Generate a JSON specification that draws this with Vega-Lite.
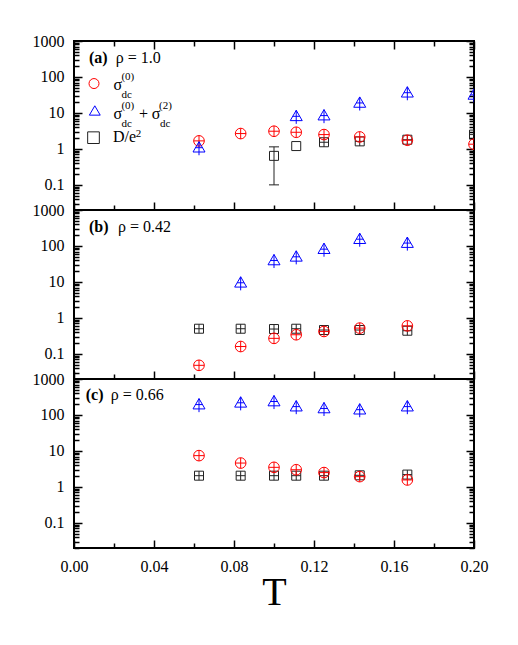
{
  "$schema": "https://vega.github.io/schema/vega-lite/v6.json",
  "autosize": {"type": "pad"},
  "padding": {"left": 31, "top": 32, "right": 5, "bottom": 5},
  "spacing": 0,
  "bounds": "flush",
  "datasets": {
    "points": [
      {"panel": "a", "series": "s0", "T": 0.0625, "v": 1.67},
      {"panel": "a", "series": "s0", "T": 0.08333, "v": 2.67},
      {"panel": "a", "series": "s0", "T": 0.1, "v": 3.1},
      {"panel": "a", "series": "s0", "T": 0.11111, "v": 2.9},
      {"panel": "a", "series": "s0", "T": 0.125, "v": 2.5},
      {"panel": "a", "series": "s0", "T": 0.14286, "v": 2.15},
      {"panel": "a", "series": "s0", "T": 0.16667, "v": 1.74},
      {"panel": "a", "series": "s0", "T": 0.2, "v": 1.35},
      {"panel": "a", "series": "s02", "T": 0.0625, "v": 1.14},
      {"panel": "a", "series": "s02", "T": 0.11111, "v": 8.5},
      {"panel": "a", "series": "s02", "T": 0.125, "v": 8.9},
      {"panel": "a", "series": "s02", "T": 0.14286, "v": 20},
      {"panel": "a", "series": "s02", "T": 0.16667, "v": 38.5},
      {"panel": "a", "series": "s02", "T": 0.2, "v": 33.5},
      {"panel": "a", "series": "D", "T": 0.1, "v": 0.64},
      {"panel": "a", "series": "D", "T": 0.11111, "v": 1.2},
      {"panel": "a", "series": "D", "T": 0.125, "v": 1.53},
      {"panel": "a", "series": "D", "T": 0.14286, "v": 1.62},
      {"panel": "a", "series": "D", "T": 0.16667, "v": 1.8},
      {"panel": "a", "series": "D", "T": 0.2, "v": 2.5},
      {"panel": "b", "series": "s0", "T": 0.0625, "v": 0.048},
      {"panel": "b", "series": "s0", "T": 0.08333, "v": 0.16},
      {"panel": "b", "series": "s0", "T": 0.1, "v": 0.27},
      {"panel": "b", "series": "s0", "T": 0.11111, "v": 0.34},
      {"panel": "b", "series": "s0", "T": 0.125, "v": 0.42},
      {"panel": "b", "series": "s0", "T": 0.14286, "v": 0.52},
      {"panel": "b", "series": "s0", "T": 0.16667, "v": 0.6},
      {"panel": "b", "series": "s02", "T": 0.08333, "v": 10},
      {"panel": "b", "series": "s02", "T": 0.1, "v": 41.7},
      {"panel": "b", "series": "s02", "T": 0.11111, "v": 52.7},
      {"panel": "b", "series": "s02", "T": 0.125, "v": 86},
      {"panel": "b", "series": "s02", "T": 0.14286, "v": 163},
      {"panel": "b", "series": "s02", "T": 0.16667, "v": 127},
      {"panel": "b", "series": "D", "T": 0.0625, "v": 0.5},
      {"panel": "b", "series": "D", "T": 0.08333, "v": 0.5},
      {"panel": "b", "series": "D", "T": 0.1, "v": 0.49},
      {"panel": "b", "series": "D", "T": 0.11111, "v": 0.5},
      {"panel": "b", "series": "D", "T": 0.125, "v": 0.46},
      {"panel": "b", "series": "D", "T": 0.14286, "v": 0.46},
      {"panel": "b", "series": "D", "T": 0.16667, "v": 0.44},
      {"panel": "c", "series": "s0", "T": 0.0625, "v": 7.4},
      {"panel": "c", "series": "s0", "T": 0.08333, "v": 4.6},
      {"panel": "c", "series": "s0", "T": 0.1, "v": 3.5},
      {"panel": "c", "series": "s0", "T": 0.11111, "v": 3.0},
      {"panel": "c", "series": "s0", "T": 0.125, "v": 2.5},
      {"panel": "c", "series": "s0", "T": 0.14286, "v": 1.93},
      {"panel": "c", "series": "s0", "T": 0.16667, "v": 1.56},
      {"panel": "c", "series": "s02", "T": 0.0625, "v": 205},
      {"panel": "c", "series": "s02", "T": 0.08333, "v": 230},
      {"panel": "c", "series": "s02", "T": 0.1, "v": 250},
      {"panel": "c", "series": "s02", "T": 0.11111, "v": 180},
      {"panel": "c", "series": "s02", "T": 0.125, "v": 160},
      {"panel": "c", "series": "s02", "T": 0.14286, "v": 148},
      {"panel": "c", "series": "s02", "T": 0.16667, "v": 180},
      {"panel": "c", "series": "D", "T": 0.0625, "v": 2.05},
      {"panel": "c", "series": "D", "T": 0.08333, "v": 2.05},
      {"panel": "c", "series": "D", "T": 0.1, "v": 2.05},
      {"panel": "c", "series": "D", "T": 0.11111, "v": 2.05},
      {"panel": "c", "series": "D", "T": 0.125, "v": 2.05},
      {"panel": "c", "series": "D", "T": 0.14286, "v": 2.1},
      {"panel": "c", "series": "D", "T": 0.16667, "v": 2.2}
    ],
    "errs": [{"panel": "a", "T": 0.1, "lo": 0.1, "hi": 1.14}],
    "tags": [
      {"panel": "a", "T": 0.0075, "v": 240, "text": "(a)"},
      {"panel": "b", "T": 0.0075, "v": 242, "text": "(b)"},
      {"panel": "c", "T": 0.00585, "v": 255, "text": "(c)"}
    ],
    "rho": [
      {"panel": "a", "T": 0.0209, "v": 240, "text": "ρ = 1.0"},
      {"panel": "b", "T": 0.022, "v": 242, "text": "ρ = 0.42"},
      {"panel": "c", "T": 0.01835, "v": 255, "text": "ρ = 0.66"}
    ],
    "keys": [
      {"series": "s0", "T": 0.01, "v": 65.6},
      {"series": "s02", "T": 0.0104, "v": 11.7},
      {"series": "D", "T": 0.00975, "v": 2.05}
    ],
    "keyText": [
      {"T": 0.0197, "v": 42.7, "text": "σ"},
      {"T": 0.0197, "v": 6.68, "text": "σ"},
      {"T": 0.0325, "v": 6.68, "text": "+"},
      {"T": 0.0389, "v": 6.68, "text": "σ"},
      {"T": 0.0195, "v": 1.565, "text": "D/e"}
    ],
    "keyScript": [
      {"T": 0.0237, "v": 81, "text": "(0)"},
      {"T": 0.0237, "v": 26.1, "text": "dc"},
      {"T": 0.0237, "v": 13.1, "text": "(0)"},
      {"T": 0.0237, "v": 4.08, "text": "dc"},
      {"T": 0.0425, "v": 13.1, "text": "(2)"},
      {"T": 0.043, "v": 4.08, "text": "dc"},
      {"T": 0.0309, "v": 2.15, "text": "2"}
    ]
  },
  "vconcat": [
    {
      "width": 400,
      "height": 169,
      "layer": [
        {
          "data": {"name": "points"},
          "transform": [{"filter": "datum.panel == 'a' && datum.series == 'D' && datum.T < 0.115"}],
          "mark": {"type": "point", "shape": "M-1,-1L1,-1L1,1L-1,1Z", "filled": false, "size": 81, "stroke": "#222222", "strokeWidth": 1, "opacity": 1, "clip": true},
          "encoding": {
            "x": {"field": "T", "type": "quantitative", "scale": {"domain": [0, 0.2], "nice": false, "zero": false},
              "axis": {"orient": "bottom", "title": null, "labels": false, "values": [0, 0.02, 0.04, 0.06, 0.08, 0.1, 0.12, 0.14, 0.16, 0.18, 0.2],
                "tickSize": {"condition": {"test": "indexof([0, 0.04, 0.08, 0.12, 0.16, 0.2], datum.value) >= 0", "value": -8}, "value": -5}}},
            "y": {"field": "v", "type": "quantitative", "scale": {"type": "log", "domain": [0.02, 1000], "nice": false},
              "axis": {"orient": "left", "title": null, "labelPadding": 18,
                "values": [0.02, 0.03, 0.04, 0.05, 0.06, 0.07, 0.08, 0.09, 0.1, 0.2, 0.3, 0.4, 0.5, 0.6, 0.7, 0.8, 0.9, 1, 2, 3, 4, 5, 6, 7, 8, 9, 10, 20, 30, 40, 50, 60, 70, 80, 90, 100, 200, 300, 400, 500, 600, 700, 800, 900, 1000],
                "labelExpr": "indexof([0.1, 1, 10, 100, 1000], datum.value) >= 0 ? format(datum.value, '~g') : ''",
                "tickSize": {"condition": {"test": "indexof([0.1, 1, 10, 100, 1000], datum.value) >= 0", "value": -8}, "value": -5}}}
          }
        },
        {
          "data": {"name": "errs"},
          "transform": [{"filter": "datum.panel == 'a'"}],
          "mark": {"type": "rule", "stroke": "#222222", "strokeWidth": 1},
          "encoding": {
            "x": {"field": "T", "type": "quantitative", "axis": null},
            "y": {"field": "lo", "type": "quantitative", "axis": null},
            "y2": {"field": "hi"}
          }
        },
        {
          "data": {"name": "errs"},
          "transform": [{"filter": "datum.panel == 'a'"}, {"fold": ["lo", "hi"], "as": ["end", "ev"]}],
          "mark": {"type": "point", "shape": "M-1,0L1,0", "filled": false, "size": 100, "stroke": "#222222", "strokeWidth": 1, "opacity": 1},
          "encoding": {
            "x": {"field": "T", "type": "quantitative", "axis": null},
            "y": {"field": "ev", "type": "quantitative", "axis": null}
          }
        },
        {
          "data": {"name": "points"},
          "transform": [{"filter": "datum.panel == 'a' && datum.series == 'D' && datum.T > 0.115"}],
          "mark": {"type": "point", "shape": "M-1,-1L1,-1L1,1L-1,1Z M-1,0L1,0 M0,-1L0,1", "filled": false, "size": 81, "stroke": "#222222", "strokeWidth": 1, "opacity": 1, "clip": true},
          "encoding": {
            "x": {"field": "T", "type": "quantitative", "axis": null},
            "y": {"field": "v", "type": "quantitative", "axis": null}
          }
        },
        {
          "data": {"name": "points"},
          "transform": [{"filter": "datum.panel == 'a' && datum.series == 's0'"}],
          "mark": {"type": "point", "shape": "M-1,0A1,1,0,1,1,1,0A1,1,0,1,1,-1,0Z M-1,0L1,0 M0,-1L0,1", "filled": false, "size": 114, "stroke": "#ff0000", "strokeWidth": 1, "opacity": 1, "clip": true},
          "encoding": {
            "x": {"field": "T", "type": "quantitative", "axis": null},
            "y": {"field": "v", "type": "quantitative", "axis": null}
          }
        },
        {
          "data": {"name": "points"},
          "transform": [{"filter": "datum.panel == 'a' && datum.series == 's02'"}],
          "mark": {"type": "point", "shape": "M0,-0.86L1,0.86L-1,0.86Z M-0.58,0.14L0.58,0.14 M0,-0.86L0,1.4", "filled": false, "size": 144, "stroke": "#0000ff", "strokeWidth": 1, "opacity": 1, "clip": true},
          "encoding": {
            "x": {"field": "T", "type": "quantitative",
              "axis": {"orient": "top", "title": null, "labels": false, "values": [0, 0.02, 0.04, 0.06, 0.08, 0.1, 0.12, 0.14, 0.16, 0.18, 0.2],
                "tickSize": {"condition": {"test": "indexof([0, 0.04, 0.08, 0.12, 0.16, 0.2], datum.value) >= 0", "value": -8}, "value": -5}}},
            "y": {"field": "v", "type": "quantitative",
              "axis": {"orient": "right", "title": null, "labels": false,
                "values": [0.02, 0.03, 0.04, 0.05, 0.06, 0.07, 0.08, 0.09, 0.1, 0.2, 0.3, 0.4, 0.5, 0.6, 0.7, 0.8, 0.9, 1, 2, 3, 4, 5, 6, 7, 8, 9, 10, 20, 30, 40, 50, 60, 70, 80, 90, 100, 200, 300, 400, 500, 600, 700, 800, 900, 1000],
                "tickSize": {"condition": {"test": "indexof([0.1, 1, 10, 100, 1000], datum.value) >= 0", "value": -8}, "value": -5}}}
          }
        },
        {
          "data": {"name": "keys"},
          "mark": {"type": "point", "filled": false, "strokeWidth": 1, "opacity": 1},
          "encoding": {
            "x": {"field": "T", "type": "quantitative", "axis": null},
            "y": {"field": "v", "type": "quantitative", "axis": null},
            "shape": {"field": "series", "type": "nominal", "legend": null,
              "scale": {"domain": ["s0", "s02", "D"], "range": ["M-1,0A1,1,0,1,1,1,0A1,1,0,1,1,-1,0Z", "M0,-0.86L1,0.86L-1,0.86Z", "M-1,-1L1,-1L1,1L-1,1Z"]}},
            "stroke": {"field": "series", "type": "nominal", "legend": null,
              "scale": {"domain": ["s0", "s02", "D"], "range": ["#ff0000", "#0000ff", "#222222"]}},
            "size": {"field": "series", "type": "nominal", "legend": null,
              "scale": {"domain": ["s0", "s02", "D"], "range": [100, 136, 64]}}
          }
        },
        {
          "data": {"name": "tags"},
          "transform": [{"filter": "datum.panel == 'a'"}],
          "mark": {"type": "text", "align": "left", "baseline": "alphabetic", "fontSize": 16, "fontWeight": "bold", "font": "Liberation Serif", "color": "black"},
          "encoding": {
            "x": {"field": "T", "type": "quantitative", "axis": null},
            "y": {"field": "v", "type": "quantitative", "axis": null},
            "text": {"field": "text"}
          }
        },
        {
          "data": {"name": "rho"},
          "transform": [{"filter": "datum.panel == 'a'"}],
          "mark": {"type": "text", "align": "left", "baseline": "alphabetic", "fontSize": 16, "font": "Liberation Serif", "color": "black"},
          "encoding": {
            "x": {"field": "T", "type": "quantitative", "axis": null},
            "y": {"field": "v", "type": "quantitative", "axis": null},
            "text": {"field": "text"}
          }
        },
        {
          "data": {"name": "keyText"},
          "mark": {"type": "text", "align": "left", "baseline": "alphabetic", "fontSize": 16, "font": "Liberation Serif", "color": "black"},
          "encoding": {
            "x": {"field": "T", "type": "quantitative", "axis": null},
            "y": {"field": "v", "type": "quantitative", "axis": null},
            "text": {"field": "text"}
          }
        },
        {
          "data": {"name": "keyScript"},
          "mark": {"type": "text", "align": "left", "baseline": "alphabetic", "fontSize": 11, "font": "Liberation Serif", "color": "black"},
          "encoding": {
            "x": {"field": "T", "type": "quantitative", "axis": null},
            "y": {"field": "v", "type": "quantitative", "axis": null},
            "text": {"field": "text"}
          }
        }
      ],
      "resolve": {"axis": {"x": "independent", "y": "independent"}}
    },
    {
      "width": 400,
      "height": 169,
      "layer": [
        {
          "data": {"name": "points"},
          "transform": [{"filter": "datum.panel == 'b' && datum.series == 'D'"}],
          "mark": {"type": "point", "shape": "M-1,-1L1,-1L1,1L-1,1Z M-1,0L1,0 M0,-1L0,1", "filled": false, "size": 81, "stroke": "#222222", "strokeWidth": 1, "opacity": 1, "clip": true},
          "encoding": {
            "x": {"field": "T", "type": "quantitative", "scale": {"domain": [0, 0.2], "nice": false, "zero": false},
              "axis": {"orient": "bottom", "title": null, "labels": false, "values": [0, 0.02, 0.04, 0.06, 0.08, 0.1, 0.12, 0.14, 0.16, 0.18, 0.2],
                "tickSize": {"condition": {"test": "indexof([0, 0.04, 0.08, 0.12, 0.16, 0.2], datum.value) >= 0", "value": -8}, "value": -5}}},
            "y": {"field": "v", "type": "quantitative", "scale": {"type": "log", "domain": [0.02, 1000], "nice": false},
              "axis": {"orient": "left", "title": null, "labelPadding": 18,
                "values": [0.02, 0.03, 0.04, 0.05, 0.06, 0.07, 0.08, 0.09, 0.1, 0.2, 0.3, 0.4, 0.5, 0.6, 0.7, 0.8, 0.9, 1, 2, 3, 4, 5, 6, 7, 8, 9, 10, 20, 30, 40, 50, 60, 70, 80, 90, 100, 200, 300, 400, 500, 600, 700, 800, 900, 1000],
                "labelExpr": "indexof([0.1, 1, 10, 100, 1000], datum.value) >= 0 ? format(datum.value, '~g') : ''",
                "tickSize": {"condition": {"test": "indexof([0.1, 1, 10, 100, 1000], datum.value) >= 0", "value": -8}, "value": -5}}}
          }
        },
        {
          "data": {"name": "points"},
          "transform": [{"filter": "datum.panel == 'b' && datum.series == 's0'"}],
          "mark": {"type": "point", "shape": "M-1,0A1,1,0,1,1,1,0A1,1,0,1,1,-1,0Z M-1,0L1,0 M0,-1L0,1", "filled": false, "size": 114, "stroke": "#ff0000", "strokeWidth": 1, "opacity": 1, "clip": true},
          "encoding": {
            "x": {"field": "T", "type": "quantitative", "axis": null},
            "y": {"field": "v", "type": "quantitative", "axis": null}
          }
        },
        {
          "data": {"name": "points"},
          "transform": [{"filter": "datum.panel == 'b' && datum.series == 's02'"}],
          "mark": {"type": "point", "shape": "M0,-0.86L1,0.86L-1,0.86Z M-0.58,0.14L0.58,0.14 M0,-0.86L0,1.4", "filled": false, "size": 144, "stroke": "#0000ff", "strokeWidth": 1, "opacity": 1, "clip": true},
          "encoding": {
            "x": {"field": "T", "type": "quantitative", "axis": null},
            "y": {"field": "v", "type": "quantitative",
              "axis": {"orient": "right", "title": null, "labels": false,
                "values": [0.02, 0.03, 0.04, 0.05, 0.06, 0.07, 0.08, 0.09, 0.1, 0.2, 0.3, 0.4, 0.5, 0.6, 0.7, 0.8, 0.9, 1, 2, 3, 4, 5, 6, 7, 8, 9, 10, 20, 30, 40, 50, 60, 70, 80, 90, 100, 200, 300, 400, 500, 600, 700, 800, 900, 1000],
                "tickSize": {"condition": {"test": "indexof([0.1, 1, 10, 100, 1000], datum.value) >= 0", "value": -8}, "value": -5}}}
          }
        },
        {
          "data": {"name": "tags"},
          "transform": [{"filter": "datum.panel == 'b'"}],
          "mark": {"type": "text", "align": "left", "baseline": "alphabetic", "fontSize": 16, "fontWeight": "bold", "font": "Liberation Serif", "color": "black"},
          "encoding": {
            "x": {"field": "T", "type": "quantitative", "axis": null},
            "y": {"field": "v", "type": "quantitative", "axis": null},
            "text": {"field": "text"}
          }
        },
        {
          "data": {"name": "rho"},
          "transform": [{"filter": "datum.panel == 'b'"}],
          "mark": {"type": "text", "align": "left", "baseline": "alphabetic", "fontSize": 16, "font": "Liberation Serif", "color": "black"},
          "encoding": {
            "x": {"field": "T", "type": "quantitative", "axis": null},
            "y": {"field": "v", "type": "quantitative", "axis": null},
            "text": {"field": "text"}
          }
        }
      ],
      "resolve": {"axis": {"x": "independent", "y": "independent"}}
    },
    {
      "width": 400,
      "height": 169,
      "layer": [
        {
          "data": {"name": "points"},
          "transform": [{"filter": "datum.panel == 'c' && datum.series == 'D'"}],
          "mark": {"type": "point", "shape": "M-1,-1L1,-1L1,1L-1,1Z M-1,0L1,0 M0,-1L0,1", "filled": false, "size": 81, "stroke": "#222222", "strokeWidth": 1, "opacity": 1, "clip": true},
          "encoding": {
            "x": {"field": "T", "type": "quantitative", "scale": {"domain": [0, 0.2], "nice": false, "zero": false},
              "axis": {"orient": "bottom", "title": "T", "labelPadding": 18, "titlePadding": -5, "values": [0, 0.02, 0.04, 0.06, 0.08, 0.1, 0.12, 0.14, 0.16, 0.18, 0.2],
                "labelExpr": "indexof([0, 0.04, 0.08, 0.12, 0.16, 0.2], datum.value) >= 0 ? format(datum.value, '.2f') : ''",
                "tickSize": {"condition": {"test": "indexof([0, 0.04, 0.08, 0.12, 0.16, 0.2], datum.value) >= 0", "value": -8}, "value": -5}}},
            "y": {"field": "v", "type": "quantitative", "scale": {"type": "log", "domain": [0.02, 1000], "nice": false},
              "axis": {"orient": "left", "title": null, "labelPadding": 18,
                "values": [0.02, 0.03, 0.04, 0.05, 0.06, 0.07, 0.08, 0.09, 0.1, 0.2, 0.3, 0.4, 0.5, 0.6, 0.7, 0.8, 0.9, 1, 2, 3, 4, 5, 6, 7, 8, 9, 10, 20, 30, 40, 50, 60, 70, 80, 90, 100, 200, 300, 400, 500, 600, 700, 800, 900, 1000],
                "labelExpr": "indexof([0.1, 1, 10, 100, 1000], datum.value) >= 0 ? format(datum.value, '~g') : ''",
                "tickSize": {"condition": {"test": "indexof([0.1, 1, 10, 100, 1000], datum.value) >= 0", "value": -8}, "value": -5}}}
          }
        },
        {
          "data": {"name": "points"},
          "transform": [{"filter": "datum.panel == 'c' && datum.series == 's0'"}],
          "mark": {"type": "point", "shape": "M-1,0A1,1,0,1,1,1,0A1,1,0,1,1,-1,0Z M-1,0L1,0 M0,-1L0,1", "filled": false, "size": 114, "stroke": "#ff0000", "strokeWidth": 1, "opacity": 1, "clip": true},
          "encoding": {
            "x": {"field": "T", "type": "quantitative", "axis": null},
            "y": {"field": "v", "type": "quantitative", "axis": null}
          }
        },
        {
          "data": {"name": "points"},
          "transform": [{"filter": "datum.panel == 'c' && datum.series == 's02'"}],
          "mark": {"type": "point", "shape": "M0,-0.86L1,0.86L-1,0.86Z M-0.58,0.14L0.58,0.14 M0,-0.86L0,1.4", "filled": false, "size": 144, "stroke": "#0000ff", "strokeWidth": 1, "opacity": 1, "clip": true},
          "encoding": {
            "x": {"field": "T", "type": "quantitative", "axis": null},
            "y": {"field": "v", "type": "quantitative",
              "axis": {"orient": "right", "title": null, "labels": false,
                "values": [0.02, 0.03, 0.04, 0.05, 0.06, 0.07, 0.08, 0.09, 0.1, 0.2, 0.3, 0.4, 0.5, 0.6, 0.7, 0.8, 0.9, 1, 2, 3, 4, 5, 6, 7, 8, 9, 10, 20, 30, 40, 50, 60, 70, 80, 90, 100, 200, 300, 400, 500, 600, 700, 800, 900, 1000],
                "tickSize": {"condition": {"test": "indexof([0.1, 1, 10, 100, 1000], datum.value) >= 0", "value": -8}, "value": -5}}}
          }
        },
        {
          "data": {"name": "tags"},
          "transform": [{"filter": "datum.panel == 'c'"}],
          "mark": {"type": "text", "align": "left", "baseline": "alphabetic", "fontSize": 16, "fontWeight": "bold", "font": "Liberation Serif", "color": "black"},
          "encoding": {
            "x": {"field": "T", "type": "quantitative", "axis": null},
            "y": {"field": "v", "type": "quantitative", "axis": null},
            "text": {"field": "text"}
          }
        },
        {
          "data": {"name": "rho"},
          "transform": [{"filter": "datum.panel == 'c'"}],
          "mark": {"type": "text", "align": "left", "baseline": "alphabetic", "fontSize": 16, "font": "Liberation Serif", "color": "black"},
          "encoding": {
            "x": {"field": "T", "type": "quantitative", "axis": null},
            "y": {"field": "v", "type": "quantitative", "axis": null},
            "text": {"field": "text"}
          }
        }
      ],
      "resolve": {"axis": {"x": "independent", "y": "independent"}}
    }
  ],
  "config": {
    "background": "white",
    "view": {"stroke": "black", "strokeWidth": 2},
    "axis": {
      "domain": false,
      "grid": false,
      "tickColor": "black",
      "tickWidth": 1.5,
      "labelFont": "Liberation Serif",
      "labelFontSize": 16,
      "labelColor": "black",
      "labelOverlap": false,
      "labelFlush": false,
      "titleFont": "Liberation Serif",
      "titleFontSize": 40,
      "titleFontWeight": "normal",
      "titleColor": "black",
      "titlePadding": 2
    }
  }
}
